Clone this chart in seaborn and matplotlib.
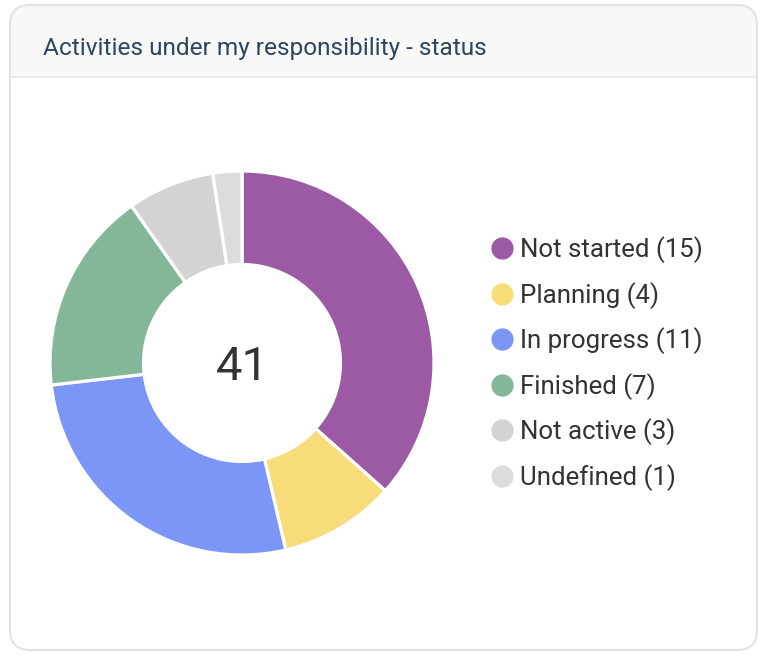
import matplotlib
matplotlib.use("Agg")
import matplotlib.pyplot as plt
from matplotlib.patches import FancyBboxPatch, Rectangle
from matplotlib.lines import Line2D
import seaborn as sns

# data
statuses = ["Not started", "Planning", "In progress", "Finished", "Not active", "Undefined"]
counts = [15, 4, 11, 7, 3, 1]
colors = ["#9c59a4", "#f9dc7a", "#7b96f7", "#84b797", "#d3d3d3", "#dcdcdc"]
title = "Activities under my responsibility - status"

sns.set_theme(style="white")
plt.rcParams['font.family'] = ['Roboto', 'DejaVu Sans']

W, H = 768, 660
fig = plt.figure(figsize=(W / 100, H / 100), dpi=100)
fig.patch.set_facecolor("white")

# card background in pixel coordinates
bg = fig.add_axes([0, 0, 1, 1])
bg.set_xlim(0, W)
bg.set_ylim(H, 0)
bg.axis("off")

x0, y0, x1, y1, hb = 10, 5, 757, 650, 77
r = 20
bg.add_patch(FancyBboxPatch((x0, y0), x1 - x0, y1 - y0,
                            boxstyle=f"round,pad=0,rounding_size={r}",
                            facecolor="#f8f8f9", edgecolor="none"))
bg.add_patch(FancyBboxPatch((x0, hb), x1 - x0, y1 - hb,
                            boxstyle=f"round,pad=0,rounding_size={r}",
                            facecolor="white", edgecolor="none"))
bg.add_patch(Rectangle((x0, hb), x1 - x0, 2 * r, facecolor="white", edgecolor="none"))
bg.plot([x0, x1], [hb, hb], color="#e6e6e6", lw=1.2)
bg.add_patch(FancyBboxPatch((x0, y0), x1 - x0, y1 - y0,
                            boxstyle=f"round,pad=0,rounding_size={r}",
                            facecolor="none", edgecolor="#e3e3e3", lw=1.5))
bg.text(43, 49, title, fontsize=17.6, color="#2e4460", va="center", ha="left")

# donut
cx, cy, rad = 242, 363, 192
ax = fig.add_axes([(cx - rad) / W, (H - cy - rad) / H, 2 * rad / W, 2 * rad / H])
ax.pie(counts, colors=colors, startangle=90, counterclock=False, radius=1,
       wedgeprops=dict(width=0.487, edgecolor="white", linewidth=2.3))
ax.set_xlim(-1.0, 1.0)
ax.set_ylim(-1.0, 1.0)
ax.set_aspect("equal")
ax.axis("off")
ax.text(0, -0.02, str(sum(counts)), fontsize=34, color="#333333", ha="center", va="center")

# legend
handles = [Line2D([], [], marker="o", linestyle="none", markersize=15,
                  markerfacecolor=c, markeredgecolor=c) for c in colors]
labels = [f"{s} ({n})" for s, n in zip(statuses, counts)]
fig.legend(handles, labels, loc="center left", bbox_to_anchor=(489 / W, 1 - 363.5 / H),
           frameon=False, fontsize=18.6, labelcolor="#333333", handletextpad=0.2,
           labelspacing=0.72, handlelength=1.0, borderpad=0, borderaxespad=0)

fig.savefig("out.png", dpi=100, facecolor="white")
